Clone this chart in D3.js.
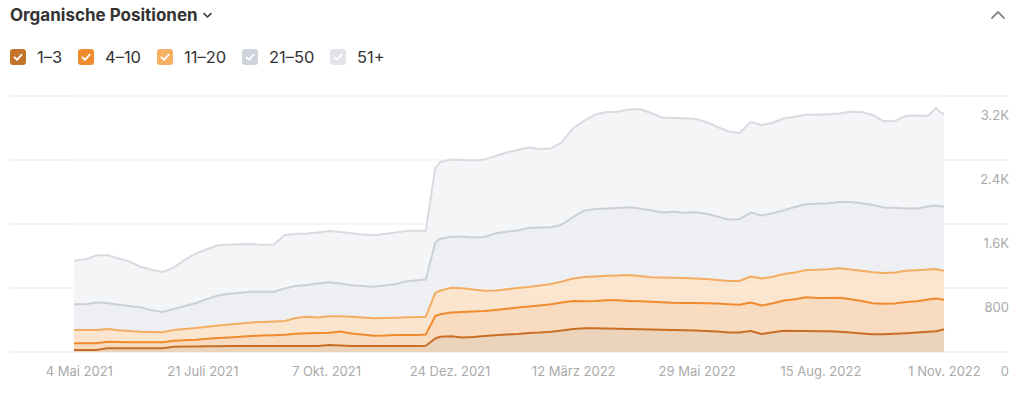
<!DOCTYPE html>
<html>
<head>
<meta charset="utf-8">
<script src="https://cdn.jsdelivr.net/npm/d3@7"></script>
<style>
  html, body { margin: 0; padding: 0; background: #fff; }
  svg { display: block; font-family: Inter, "Noto Sans", sans-serif; }
</style>
</head>
<body>
<svg id="chart" width="1024" height="393"></svg>
<script>
// ---------- DATA ----------
const dates = [
  "2021-05-01","2021-05-08","2021-05-15","2021-05-22","2021-05-29","2021-06-05","2021-06-12","2021-06-19","2021-06-26",
  "2021-07-03","2021-07-10","2021-07-17","2021-07-24","2021-07-31","2021-08-07","2021-08-14","2021-08-21","2021-08-28",
  "2021-09-04","2021-09-11","2021-09-18","2021-09-25","2021-10-02","2021-10-09","2021-10-16","2021-10-23","2021-10-30",
  "2021-11-06","2021-11-13","2021-11-20","2021-11-27","2021-12-04","2021-12-09","2021-12-15","2021-12-18","2021-12-25",
  "2022-01-01","2022-01-08","2022-01-15","2022-01-22","2022-01-29","2022-02-05","2022-02-12","2022-02-19","2022-02-26",
  "2022-03-05","2022-03-12","2022-03-19","2022-03-26","2022-04-02","2022-04-09","2022-04-16","2022-04-23","2022-04-30",
  "2022-05-07","2022-05-14","2022-05-21","2022-05-28","2022-06-04","2022-06-11","2022-06-18","2022-06-25","2022-07-02",
  "2022-07-09","2022-07-16","2022-07-23","2022-07-30","2022-08-06","2022-08-13","2022-08-20","2022-08-27","2022-09-03",
  "2022-09-10","2022-09-17","2022-09-24","2022-10-01","2022-10-08","2022-10-15","2022-10-22","2022-10-27","2022-10-29",
  "2022-11-01"
];

const pos1to3 = [
  25,25,25,46,46,46,46,46,46,66,69,70,72,73,74,75,75,75,75,75,75,75,75,88,81,75,75,75,75,75,75,75,78,
  169,191,196,181,188,200,209,219,225,238,244,254,269,288,296,296,294,291,288,285,281,279,275,271,268,
  263,256,244,244,263,225,246,265,263,263,260,258,254,244,231,221,223,228,235,244,254,260,269,284
];
const pos4to10 = [
  84,84,84,82,78,75,75,75,75,75,77,83,93,102,107,115,125,131,135,140,153,159,163,153,175,156,143,129,131,138,138,138,141,
  281,280,298,319,318,313,316,321,331,330,337,342,350,350,339,342,354,355,350,348,347,342,340,342,345,
  347,349,354,347,356,356,363,379,397,422,415,417,425,416,407,388,381,378,390,391,402,410,394,370
];
const pos11to20 = [
  166,166,166,160,147,142,133,129,125,134,142,147,151,156,164,166,170,169,170,173,197,206,193,207,190,209,213,217,219,216,221,225,222,
  288,295,309,298,275,252,244,244,244,245,250,254,262,281,303,306,305,310,325,317,306,310,314,312,305,
  303,295,290,297,325,338,332,331,334,340,353,360,367,371,377,387,384,388,390,388,375,368,362,362
];
const pos21to50 = [
  321,321,344,325,319,312,304,271,254,263,287,313,347,375,383,385,383,379,374,406,400,398,425,423,410,395,394,395,406,421,450,458,465,
  631,650,638,643,650,673,714,720,719,737,725,709,713,769,828,844,840,844,845,843,839,813,824,816,828,
  815,794,768,771,800,787,793,798,819,823,825,825,829,844,844,842,818,809,778,771,788,792,798,800
];
const pos51plus = [
  545,560,587,600,579,556,507,507,500,518,581,618,622,628,613,605,597,584,590,669,650,643,638,642,644,649,644,643,644,644,629,623,607,
  931,959,965,959,963,968,967,990,1006,1006,982,985,1031,1112,1122,1181,1207,1203,1223,1245,1215,1187,1172,1180,1167,
  1147,1119,1100,1079,1131,1132,1132,1146,1127,1117,1112,1111,1106,1129,1141,1125,1078,1085,1157,1162,1131,1220,1183,1159
];

const seriesNames = ["1–3", "4–10", "11–20", "21–50", "51+"];
const xTickDates = ["2021-05-04","2021-07-21","2021-10-07","2021-12-24","2022-03-12","2022-05-29","2022-08-15","2022-11-01"];
const xTickLabels = ["4 Mai 2021","21 Juli 2021","7 Okt. 2021","24 Dez. 2021","12 März 2022","29 Mai 2022","15 Aug. 2022","1 Nov. 2022"];
const yTickValues = [0, 800, 1600, 2400, 3200];
const yTickLabels = ["0", "800", "1.6K", "2.4K", "3.2K"];
const titleText = "Organische Positionen";

// ---------- STYLE ----------
const lineColors = ["#c96e24", "#f08a2e", "#f3ad62", "#cbd0d8", "#d8dbe1"];
const fillColors = ["#ebd3bc", "#f9dcbf", "#fbe5ce", "#eeeff3", "#f4f5f7"];
const boxColors  = ["#c4732b", "#f08c30", "#f5b061", "#cfd3db", "#e2e4e9"];

const parse = d3.utcParse("%Y-%m-%d");
const rows = dates.map((d, i) => ({
  date: parse(d),
  "1–3": pos1to3[i], "4–10": pos4to10[i], "11–20": pos11to20[i],
  "21–50": pos21to50[i], "51+": pos51plus[i]
}));

const svg = d3.select("#chart");

const x = d3.scaleUtc()
  .domain([parse(dates[0]), parse(dates[dates.length - 1])])
  .range([74, 944]);
const y = d3.scaleLinear().domain([0, 3200]).range([352, 96]);

// gridlines (under)
svg.append("g").selectAll("line").data(yTickValues).join("line")
  .attr("x1", 10).attr("x2", 1009)
  .attr("y1", d => y(d)).attr("y2", d => y(d))
  .attr("stroke", "#e6e7ea").attr("stroke-width", 1);

const layers = d3.stack().keys(seriesNames)(rows);

const area = d3.area()
  .x(d => x(d.data.date))
  .y0(d => y(d[0]))
  .y1(d => y(d[1]));
const line = d3.line()
  .x(d => x(d.data.date))
  .y(d => y(d[1]));

svg.append("g").selectAll("path").data(layers).join("path")
  .attr("d", area)
  .attr("fill", (d, i) => fillColors[i]);

// gridlines over fill (subtle)
svg.append("g").selectAll("line").data(yTickValues.slice(1)).join("line")
  .attr("x1", 74).attr("x2", 944)
  .attr("y1", d => y(d)).attr("y2", d => y(d))
  .attr("stroke", "rgba(255,255,255,0.45)").attr("stroke-width", 1);

svg.append("g").selectAll("path").data(layers.slice().reverse()).join("path")
  .attr("d", line)
  .attr("fill", "none")
  .attr("stroke", d => lineColors[seriesNames.indexOf(d.key)])
  .attr("stroke-width", 2)
  .attr("stroke-linejoin", "round");

// x axis
const xAxis = d3.axisBottom(x)
  .tickValues(xTickDates.map(parse))
  .tickFormat((d, i) => xTickLabels[i])
  .tickSize(0).tickPadding(0);
const gx = svg.append("g").attr("transform", "translate(0,352)").call(xAxis);
gx.select(".domain").remove();
gx.selectAll("text")
  .attr("y", 24).attr("dy", null)
  .attr("fill", "#aaaaaa").attr("font-size", 13)
  .attr("font-family", "Inter, 'Noto Sans', sans-serif");

// y axis (labels right, below gridlines)
const yAxis = d3.axisRight(y)
  .tickValues(yTickValues)
  .tickFormat((d, i) => yTickLabels[i])
  .tickSize(0).tickPadding(0);
const gy = svg.append("g").attr("transform", "translate(1009,0)").call(yAxis);
gy.select(".domain").remove();
gy.selectAll("text")
  .attr("text-anchor", "end")
  .attr("x", 0).attr("dy", null).attr("y", 23)
  .attr("fill", "#aaaaaa").attr("font-size", 13)
  .attr("font-family", "Inter, 'Noto Sans', sans-serif");

// title
svg.append("text")
  .attr("x", 10).attr("y", 21)
  .attr("font-size", 17).attr("font-weight", 700)
  .attr("fill", "#333")
  .text(titleText);
svg.append("path")
  .attr("d", "M204,13.5 L207.5,17 L211,13.5")
  .attr("fill", "none").attr("stroke", "#333").attr("stroke-width", 1.6)
  .attr("stroke-linecap", "round").attr("stroke-linejoin", "round");
// collapse chevron top-right
svg.append("path")
  .attr("d", "M992,18 L998,12 L1004,18")
  .attr("fill", "none").attr("stroke", "#8a8a8a").attr("stroke-width", 1.8)
  .attr("stroke-linecap", "round").attr("stroke-linejoin", "round");

// legend
const legendX = [10, 78, 157, 242, 330];
const lg = svg.append("g").selectAll("g").data(seriesNames).join("g")
  .attr("transform", (d, i) => `translate(${legendX[i]},49)`);
lg.append("rect")
  .attr("width", 16).attr("height", 16).attr("rx", 3)
  .attr("fill", (d, i) => boxColors[i]);
lg.append("path")
  .attr("d", "M4.5,8.3 L7,10.8 L11.7,5.6")
  .attr("fill", "none").attr("stroke", "#fff").attr("stroke-width", 1.8)
  .attr("stroke-linecap", "round").attr("stroke-linejoin", "round");
lg.append("text")
  .attr("x", 27).attr("y", 14)
  .attr("font-size", 16.5).attr("fill", "#333")
  .text(d => d);
</script>
</body>
</html>
